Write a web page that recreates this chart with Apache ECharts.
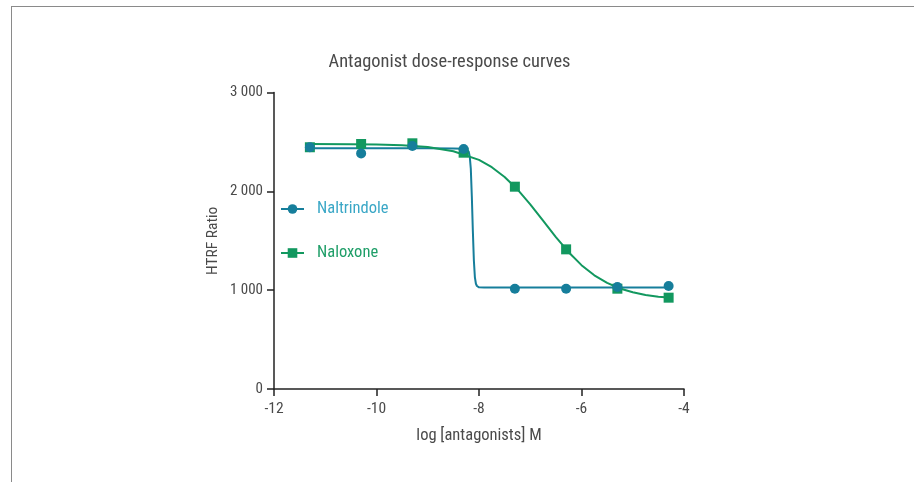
<!DOCTYPE html>
<html>
<head>
<meta charset="utf-8">
<script src="https://cdn.jsdelivr.net/npm/echarts@6/dist/echarts.min.js"></script>
<style>
  html, body { margin: 0; padding: 0; background: #fff; }
  #wrap { position: relative; width: 914px; height: 482px; overflow: hidden; }
  #chart { width: 914px; height: 482px; }
  #frame { position: absolute; left: 11px; top: 6px; width: 1000px; height: 600px;
           border-top: 1.5px solid #8a8a8a; border-left: 1.5px solid #8a8a8a; pointer-events: none; }
</style>
</head>
<body>
<div id="wrap"><div id="chart"></div><div id="frame"></div></div>
<script>
// ---- data ----
const doseLog = [-11.3, -10.3, -9.3, -8.3, -7.3, -6.3, -5.3, -4.3];
const naltrindoleValues = [2446, 2384, 2459, 2428, 1015, 1015, 1032, 1042];
const naloxoneValues = [2446, 2479, 2486, 2391, 2047, 1413, 1015, 924];

// fitted curves as drawn in the reference
const naltrindoleCurveX = [-11.3, -9.0, -8.5, -8.3, -8.25, -8.22, -8.2, -8.18, -8.16, -8.14, -8.12, -8.1, -8.08, -8.06, -8.04, -8.02, -8.0, -7.9, -4.3];
const naltrindoleCurveY = [2435, 2435, 2434, 2432, 2428, 2418, 2400, 2350, 2230, 1950, 1600, 1300, 1130, 1065, 1042, 1033, 1029, 1028, 1028];
const naloxoneCurveX = [-11.3, -10.5, -10, -9.5, -9, -8.5, -8, -7.75, -7.5, -7.25, -7, -6.75, -6.5, -6.25, -6, -5.75, -5.5, -5.25, -5, -4.75, -4.5, -4.3];
const naloxoneCurveY = [2479, 2477, 2474, 2466, 2448, 2406, 2318, 2244, 2145, 2019, 1869, 1703, 1537, 1384, 1253, 1150, 1073, 1017, 979, 952, 934, 925];

const xTicks = { min: -12, max: -4, interval: 2 };
const yTicks = { min: 0, max: 3000, interval: 1000 };

const seriesNames = ['Naltrindole', 'Naloxone'];
const titleText = 'Antagonist dose-response curves';
const xName = 'log [antagonists] M';
const yName = 'HTRF Ratio';

// ---- styling ----
const FONT = "'Roboto Condensed', Roboto, sans-serif";
const W = 'normal';
const tealLine = '#167e9b';
const greenLine = '#12985f';
const tealText = '#3aa7c6';
const greenText = '#1f9e68';
const textGrey = '#4a4a4a';

const zip = (a, b) => a.map((v, i) => [v, b[i]]);

const chart = echarts.init(document.getElementById('chart'), null, { renderer: 'canvas' });
chart.setOption({
  animation: false,
  backgroundColor: '#ffffff',
  textStyle: { fontFamily: FONT, fontWeight: W },
  title: {
    text: titleText,
    left: 444.5, top: 48, textAlign: 'center',
    textStyle: { fontFamily: FONT, fontSize: 18.4, fontWeight: W, color: textGrey }
  },
  grid: { left: 274, right: 230, top: 92.5, bottom: 93, containLabel: false },
  legend: {
    orient: 'vertical',
    left: 280, top: 200.5, padding: 0,
    itemWidth: 23, itemHeight: 12, itemGap: 27,
    textStyle: { fontFamily: FONT, fontSize: 16.5, fontWeight: W, padding: [0, 0, 0, 8] },
    data: [
      { name: seriesNames[0], textStyle: { color: tealText } },
      { name: seriesNames[1], textStyle: { color: greenText } }
    ]
  },
  xAxis: {
    type: 'value', min: xTicks.min, max: xTicks.max, interval: xTicks.interval,
    name: xName, nameLocation: 'middle', nameGap: 38,
    nameTextStyle: { fontFamily: FONT, fontSize: 16.5, fontWeight: W, color: textGrey },
    axisLine: { lineStyle: { color: '#222', width: 1.5 } },
    axisTick: { show: true, length: 7, lineStyle: { color: '#222', width: 1.5 } },
    axisLabel: { fontFamily: FONT, fontSize: 15.5, fontWeight: W, color: textGrey, margin: 12 },
    splitLine: { show: false }
  },
  yAxis: {
    type: 'value', min: yTicks.min, max: yTicks.max, interval: yTicks.interval,
    name: yName, nameLocation: 'middle', nameGap: 53, nameRotate: 90,
    nameTextStyle: { fontFamily: FONT, fontSize: 15.5, fontWeight: W, color: textGrey },
    axisLine: { show: true, lineStyle: { color: '#222', width: 1.5 } },
    axisTick: { show: true, length: 7, lineStyle: { color: '#222', width: 1.5 } },
    axisLabel: {
      fontFamily: FONT, fontSize: 15, fontWeight: W, color: textGrey, margin: 11,
      formatter: v => String(v).replace(/\B(?=(\d{3})+(?!\d))/g, ' ')
    },
    splitLine: { show: false }
  },
  series: [
    {
      name: seriesNames[0], type: 'line', data: zip(naltrindoleCurveX, naltrindoleCurveY),
      symbol: 'circle', symbolSize: 10, showSymbol: false, smooth: false,
      itemStyle: { color: tealLine }, lineStyle: { color: tealLine, width: 2 }, z: 2
    },
    {
      name: seriesNames[1], type: 'line', data: zip(naloxoneCurveX, naloxoneCurveY),
      symbol: 'rect', symbolSize: 10, showSymbol: false, smooth: false,
      itemStyle: { color: greenLine }, lineStyle: { color: greenLine, width: 2 }, z: 3
    },
    {
      name: seriesNames[1] + ' data', type: 'scatter', data: zip(doseLog, naloxoneValues),
      symbol: 'rect', symbolSize: 10, itemStyle: { color: greenLine, opacity: 1 }, z: 4
    },
    {
      name: seriesNames[0] + ' data', type: 'scatter', data: zip(doseLog, naltrindoleValues),
      symbol: 'circle', symbolSize: 10, itemStyle: { color: tealLine, opacity: 1 }, z: 5
    }
  ]
});
</script>
</body>
</html>
